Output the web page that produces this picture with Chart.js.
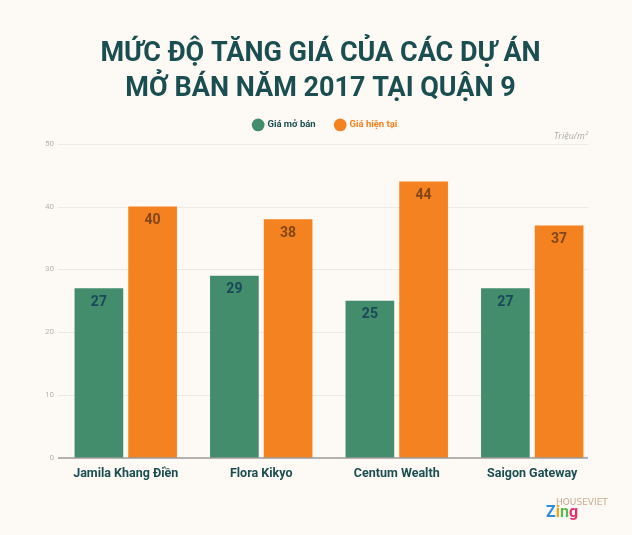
<!DOCTYPE html>
<html lang="vi">
<head>
    <meta charset="UTF-8">
    <title>Mức độ tăng giá</title>
    <style>
        html, body {
            margin: 0;
            padding: 0;
            background: #fdf9f5;
        }

        .wrap {
            width: 632px;
            height: 535px;
        }
    </style>
</head>
<body>
    <div class="wrap">
        <canvas id="myChart" width="632" height="535"></canvas>
    </div>

    <script src="https://cdn.jsdelivr.net/npm/chart.js"></script>
    <script>
        // Data
        const projects = ['Jamila Khang Điền', 'Flora Kikyo', 'Centum Wealth', 'Saigon Gateway'];
        const giaMoBan = [27, 29, 25, 27];
        const giaHienTai = [40, 38, 44, 37];
        const yTicks = [0, 10, 20, 30, 40, 50];

        const teal = '#1b4e50';
        const gridEnd = 588; // grid lines stop a bit short of the last bar

        // a bit more room under the legend, and nudge it right
        const legendTweak = {
            id: 'legendTweak',
            beforeInit(chart) {
                const fit = chart.legend.fit;
                chart.legend.fit = function () {
                    fit.bind(chart.legend)();
                    this.height += 4;
                };
            },
            afterLayout(chart) {
                chart.legend.left += 5;
                chart.legend.right += 5;
            }
        };

        // grid lines (shorter than the plot area, like the original)
        const grid = {
            id: 'grid',
            beforeDatasetsDraw(chart) {
                const ctx = chart.ctx;
                const y = chart.scales.y;
                ctx.save();
                ctx.strokeStyle = '#ede9e4';
                ctx.lineWidth = 1;
                yTicks.forEach(v => {
                    if (v === 0) return;
                    const py = Math.round(y.getPixelForValue(v)) + 0.5;
                    ctx.beginPath();
                    ctx.moveTo(chart.chartArea.left, py);
                    ctx.lineTo(gridEnd, py);
                    ctx.stroke();
                });
                ctx.restore();
            },
            afterDatasetsDraw(chart) {
                const ctx = chart.ctx;
                const py = chart.scales.y.getPixelForValue(0);
                ctx.save();
                ctx.strokeStyle = '#9a9a9a';
                ctx.lineWidth = 1.5;
                ctx.beginPath();
                ctx.moveTo(chart.chartArea.left, py);
                ctx.lineTo(gridEnd, py);
                ctx.stroke();
                ctx.restore();
            }
        };

        // value labels inside bars + unit text + watermark
        const extras = {
            id: 'extras',
            afterDatasetsDraw(chart) {
                const ctx = chart.ctx;
                ctx.save();
                ctx.textAlign = 'center';
                ctx.textBaseline = 'middle';
                ctx.font = 'bold 14px Roboto';
                chart.data.datasets.forEach((ds, i) => {
                    const meta = chart.getDatasetMeta(i);
                    meta.data.forEach((bar, j) => {
                        ctx.fillStyle = i === 0 ? '#19495a' : '#83461a';
                        ctx.fillText(ds.data[j], bar.x, bar.y + 14);
                    });
                });
                // unit
                ctx.font = 'italic 9px "Open Sans"';
                ctx.fillStyle = '#aaa';
                ctx.textAlign = 'right';
                ctx.fillText('Triệu/m²', gridEnd, chart.chartArea.top - 7);
                // watermark
                ctx.textAlign = 'left';
                ctx.font = '9px "DejaVu Sans"';
                ctx.fillStyle = '#c9ab8e';
                ctx.fillText('HOUSEVIET', 556, 503);
                ctx.font = 'bold 16px Roboto';
                const zing = [['Z', '#2f8fd8'], ['i', '#f2a51c'], ['n', '#5bb84a'], ['g', '#e0306f']];
                let zx = 546;
                zing.forEach(([ch, col]) => {
                    ctx.fillStyle = col;
                    ctx.fillText(ch, zx, 513);
                    zx += ctx.measureText(ch).width;
                });
                ctx.restore();
            }
        };

        const config = {
            type: 'bar',
            data: {
                labels: projects,
                datasets: [{
                    label: 'Giá mở bán',
                    data: giaMoBan,
                    backgroundColor: '#438c6c',
                    categoryPercentage: 0.793,
                    barPercentage: 0.906
                }, {
                    label: 'Giá hiện tại',
                    data: giaHienTai,
                    backgroundColor: '#f58220',
                    categoryPercentage: 0.793,
                    barPercentage: 0.906
                }]
            },
            options: {
                responsive: false,
                animation: false,
                layout: {
                    padding: { left: 41, right: 32, top: 0, bottom: 54 }
                },
                plugins: {
                    title: {
                        display: true,
                        text: ['MỨC ĐỘ TĂNG GIÁ CỦA CÁC DỰ ÁN', 'MỞ BÁN NĂM 2017 TẠI QUẬN 9'],
                        color: teal,
                        font: { family: 'Roboto', weight: 'bold', size: 27, lineHeight: 1.3 },
                        padding: { top: 37, bottom: -7 }
                    },
                    legend: {
                        labels: {
                            usePointStyle: true,
                            pointStyle: 'circle',
                            boxWidth: 9,
                            boxHeight: 9,
                            padding: 20,
                            font: { family: 'Roboto', weight: 'bold', size: 9.5 },
                            generateLabels(chart) {
                                const items = Chart.defaults.plugins.legend.labels.generateLabels(chart);
                                items.forEach((it, i) => {
                                    it.fontColor = i === 0 ? teal : '#f58220';
                                    it.lineWidth = 0;
                                });
                                return items;
                            }
                        }
                    },
                    tooltip: { enabled: false }
                },
                scales: {
                    x: {
                        grid: { display: false },
                        border: { display: false },
                        ticks: {
                            color: teal,
                            font: { family: 'Roboto', weight: 'bold', size: 12.5 },
                            padding: 0
                        }
                    },
                    y: {
                        min: 0,
                        max: 50,
                        afterBuildTicks(axis) {
                            axis.ticks = yTicks.map(v => ({ value: v }));
                        },
                        grid: { display: false, drawTicks: false },
                        border: { display: false },
                        ticks: {
                            color: '#b5b5b5',
                            font: { family: 'Roboto', size: 8 },
                            padding: 4
                        }
                    }
                }
            },
            plugins: [legendTweak, grid, extras]
        };

        var myChart = new Chart(document.getElementById('myChart'), config);
    </script>
</body>
</html>
